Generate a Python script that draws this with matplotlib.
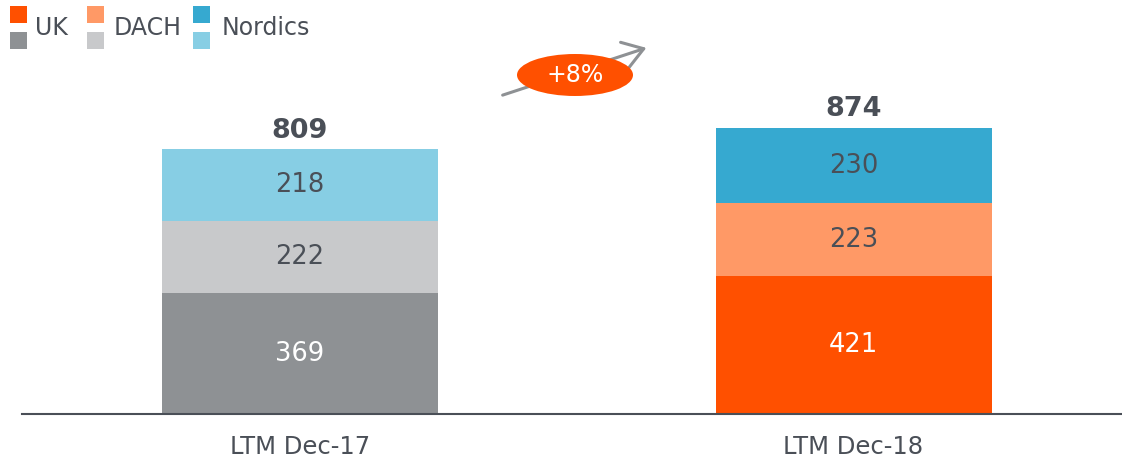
import matplotlib

matplotlib.use("Agg")
import matplotlib.pyplot as plt
from matplotlib.patches import Ellipse, Rectangle, FancyArrowPatch
import numpy as np

periods = ["LTM Dec-17", "LTM Dec-18"]
regions = ["UK", "DACH", "Nordics"]
uk = [369, 421]
dach = [222, 223]
nordics = [218, 230]

# colours per period (2017 muted, 2018 highlighted)
colors_17 = ["#8E9194", "#C8C9CB", "#87CEE4"]
colors_18 = ["#FF5000", "#FF9966", "#36A9D0"]
text_dark = "#4A4F57"

W, H = 1122, 463
fig = plt.figure(figsize=(W / 100, H / 100), dpi=100)
ax = fig.add_axes([22 / W, (H - 414) / H, 1 - 22 / W, 414 / H])

x = np.arange(len(periods))
width = 0.4986
series = [uk, dach, nordics]
bottom = np.zeros(len(periods))
for i, vals in enumerate(series):
    cols = [colors_17[i], colors_18[i]]
    ax.bar(x, vals, width, bottom=bottom, color=cols, linewidth=0, zorder=2)
    for xi, v, b in zip(x, vals, bottom):
        tc = "white" if i == 0 else text_dark
        ax.text(xi, b + v / 2, f"{v}", ha="center", va="center", fontsize=18.5,
                color=tc, family="DejaVu Sans")
    bottom = bottom + np.array(vals)

totals = bottom
for xi, t in zip(x, totals):
    ax.text(xi, t + 17, f"{int(t)}", ha="center", va="bottom", fontsize=19.5,
            fontweight="bold", color=text_dark, family="DejaVu Sans")

ax.set_xlim(-0.5023, 1.485)
ax.set_ylim(0, 1265)
ax.set_xticks(x)
ax.set_xticklabels(periods, fontsize=17.5, color=text_dark, family="DejaVu Sans")
ax.tick_params(axis="x", length=0, pad=15)
ax.set_yticks([])
for s in ["top", "right", "left"]:
    ax.spines[s].set_visible(False)
ax.spines["bottom"].set_color(text_dark)
ax.spines["bottom"].set_linewidth(1.5)

# growth arrow and bubble (figure pixel coords)
def px(xp, yp):
    return (xp / W, 1 - yp / H)

arrow = FancyArrowPatch(px(500, 96), px(649, 47), transform=fig.transFigure,
                        arrowstyle="->,head_length=9,head_width=6",
                        color="#8E9194", linewidth=2.2, mutation_scale=1.6)
fig.patches.append(arrow)
fig.patches.append(Ellipse(px(575, 75), 116 / W, 42 / H, transform=fig.transFigure,
                           facecolor="#FF5000", edgecolor="none"))
growth = round((totals[1] / totals[0] - 1) * 100)
fig.text(*px(575, 75), f"+{growth}%", ha="center", va="center", fontsize=17,
         color="white", family="DejaVu Sans")

# legend
sq = 17
legend_x = [10, 87, 193]
text_x = [35, 114, 222]
for i, name in enumerate(regions):
    for row, col in enumerate([colors_18[i], colors_17[i]]):
        y0 = 6 + row * 26
        fig.patches.append(Rectangle(px(legend_x[i], y0 + sq), sq / W, sq / H,
                                     transform=fig.transFigure, facecolor=col,
                                     edgecolor="none"))
    fig.text(*px(text_x[i], 28), name, ha="left", va="center", fontsize=17,
             color=text_dark, family="DejaVu Sans")

fig.savefig("out.png", dpi=100)
